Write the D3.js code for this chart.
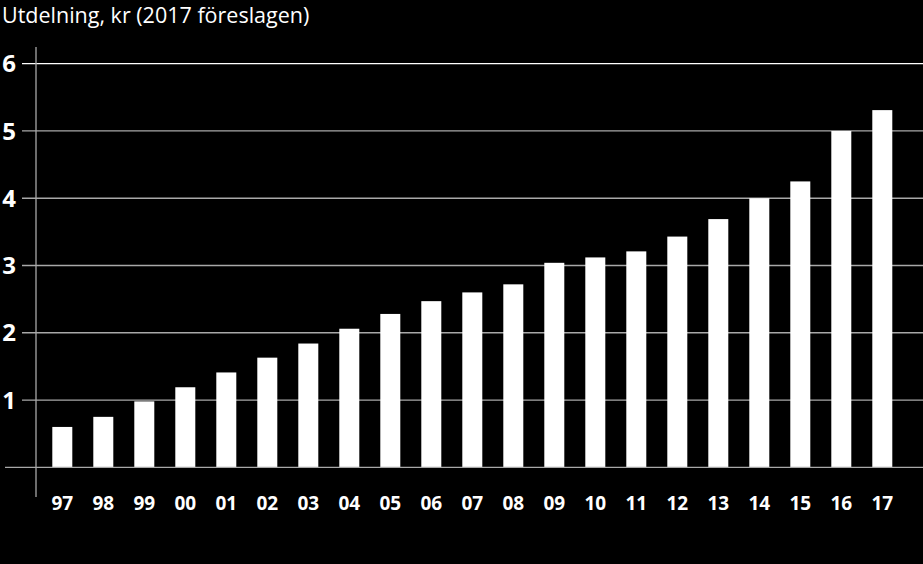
<!DOCTYPE html>
<html><head><meta charset="utf-8">
<script src="https://cdn.jsdelivr.net/npm/d3@7"></script>
<style>
html,body{margin:0;padding:0;background:#000;}
svg{display:block;}
</style></head>
<body>
<svg id="chart" width="923" height="564"></svg>
<script>
const categories = ["97","98","99","00","01","02","03","04","05","06","07","08","09","10","11","12","13","14","15","16","17"];
const values = [0.6,0.75,0.98,1.19,1.41,1.63,1.84,2.06,2.28,2.47,2.6,2.72,3.04,3.12,3.21,3.43,3.69,4.0,4.25,5.0,5.31];
const yTicks = [1,2,3,4,5,6];
const title = "Utdelning, kr (2017 föreslagen)";

const svg = d3.select("#chart");
const W = 923, H = 564;
const y = d3.scaleLinear().domain([0,6]).range([467.3,63.7]);
const x = d3.scaleBand().domain(categories).range([36,908.6]).paddingInner(0.5122).paddingOuter(0.3976);

svg.append("rect").attr("width",W).attr("height",H).attr("fill","#000");

// gridlines
svg.append("g").selectAll("line").data(yTicks).join("line")
  .attr("x1",22).attr("x2",W)
  .attr("y1",d=>y(d)).attr("y2",d=>y(d))
  .attr("stroke",d=>d===6?"#ffffff":"#a8a8a8").attr("stroke-width",1.3);

// bars
svg.append("g").selectAll("rect").data(values).join("rect")
  .attr("x",(d,i)=>x(categories[i])).attr("width",x.bandwidth())
  .attr("y",d=>y(d)).attr("height",d=>y(0)-y(d))
  .attr("fill","#fff");

// zero line
svg.append("line").attr("x1",5).attr("x2",W).attr("y1",y(0)).attr("y2",y(0))
  .attr("stroke","#a8a8a8").attr("stroke-width",1.3);

// vertical axis line
svg.append("line").attr("x1",36).attr("x2",36).attr("y1",47).attr("y2",497)
  .attr("stroke","#a8a8a8").attr("stroke-width",1.3);

// y labels
svg.append("g").selectAll("text").data(yTicks).join("text")
  .attr("x",16).attr("y",d=>y(d)).attr("dy","0.36em")
  .attr("text-anchor","end").attr("fill","#fff")
  .attr("font-family","'Open Sans', sans-serif").attr("font-weight",700).attr("font-size",24)
  .text(d=>d);

// x labels
svg.append("g").selectAll("text").data(categories).join("text")
  .attr("x",d=>x(d)+x.bandwidth()/2).attr("y",510)
  .attr("text-anchor","middle").attr("fill","#fff")
  .attr("font-family","'Open Sans', sans-serif").attr("font-weight",700).attr("font-size",19)
  .text(d=>d);

// title
svg.append("text").attr("x",2).attr("y",23)
  .attr("fill","#fff").attr("font-family","'Open Sans', sans-serif").attr("font-weight",400).attr("font-size",21.5)
  .text(title);
</script>
</body></html>
